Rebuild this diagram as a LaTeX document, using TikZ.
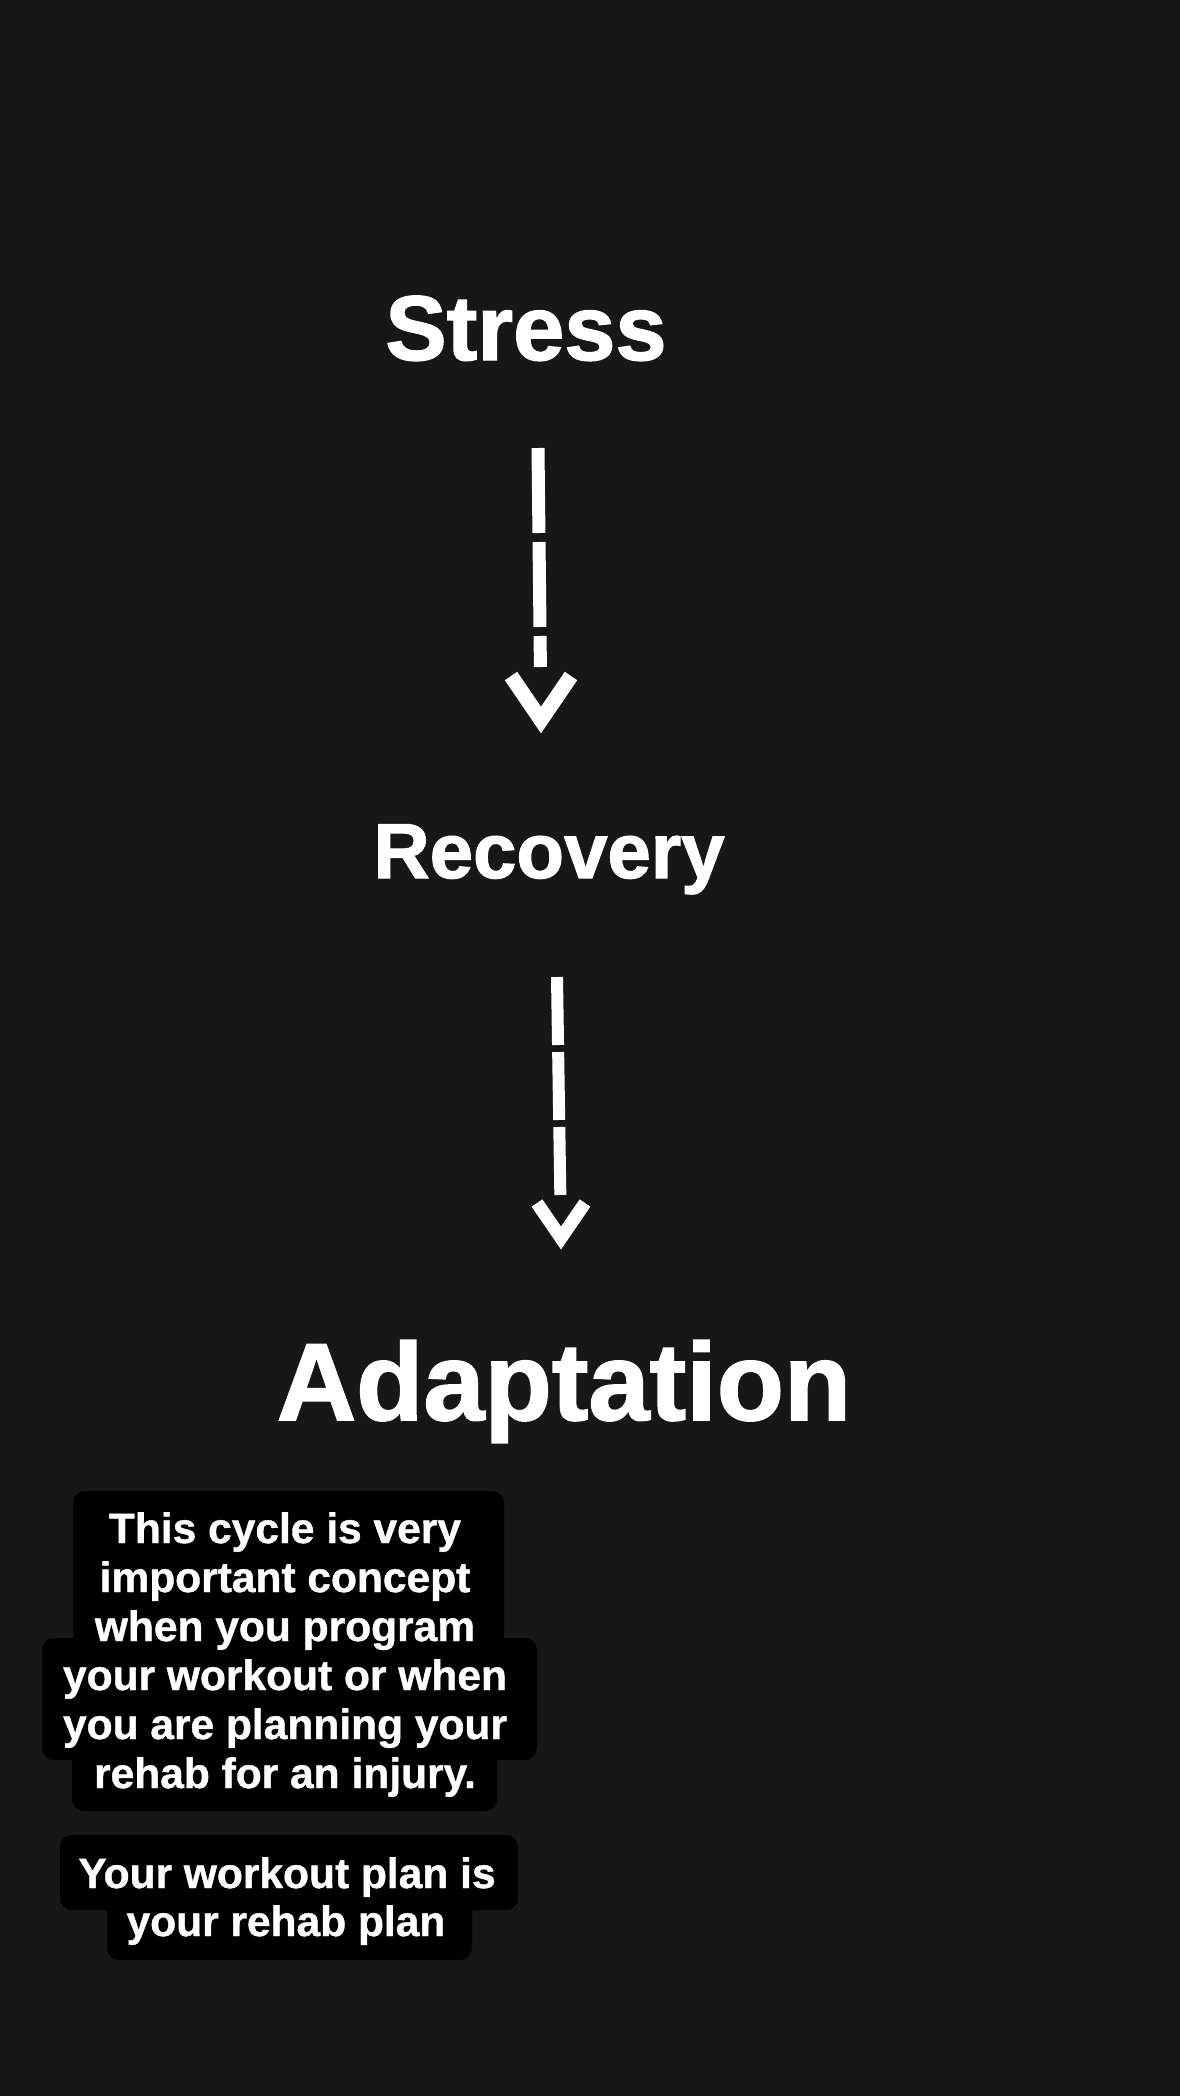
\documentclass[tikz,border=0pt]{standalone}
\usepackage{fontspec}
\setmainfont{Liberation Sans}
\newfontfamily\heavyfont{Liberation Sans Bold}[FakeBold=1.5]
\newfontfamily\notefont{Liberation Sans Bold}[FakeBold=1]
\usepackage{tikz}
\usetikzlibrary{calc}

\definecolor{bgdark}{RGB}{23,23,23}

\tikzset{
  heading/.style={text=white, anchor=base, inner sep=0pt, font=\heavyfont\fontsize{#1}{#1}\selectfont},
  note/.style={text=white, anchor=base, inner sep=0pt, font=\notefont\fontsize{42.5}{49}\selectfont},
  notebox/.style={fill=black, rounded corners=12pt},
  dashlink/.style={white, line width=#1},
  chev/.style={white, line width=#1, line join=miter},
}

\begin{document}
\begin{tikzpicture}[x=1pt, y=-1pt]
\useasboundingbox (0,0) rectangle (1179,2096);
\fill[bgdark] (-6,-6) rectangle (1185,2102);

\node[heading=92] (stress) at (526,360) {Stress};
\node[heading=78] (recovery) at (549,878) {Recovery};
\node[heading=110] (adapt) at (564,1420) {Adaptation};

% first arrow
\coordinate (a1top) at (538,448);
\coordinate (a1tip) at (541,720);
\draw[dashlink=13pt, dash pattern=on 85pt off 9pt, shorten >=53pt] (a1top) -- (a1tip);
\draw[chev=15pt] ($(a1tip)+(-30,-44)$) -- (a1tip) -- ($(a1tip)+(30,-44)$);

% second arrow
\coordinate (a2top) at (557,977);
\coordinate (a2tip) at (561,1238);
\draw[dashlink=12pt, dash pattern=on 68pt off 7pt, shorten >=43pt] (a2top) -- (a2tip);
\draw[chev=13pt] ($(a2tip)+(-24,-35)$) -- (a2tip) -- ($(a2tip)+(24,-35)$);

% text boxes
\fill[notebox] (73,1491) rectangle (504,1650);
\fill[notebox] (42,1638) rectangle (537,1760);
\fill[notebox] (72,1748) rectangle (497,1811);
\fill[notebox] (60,1835) rectangle (518,1910);
\fill[notebox] (107,1896) rectangle (472,1960);

\foreach \txt [count=\i] in {This cycle is very, important concept, when you program,
    your workout or when, you are planning your, rehab for an injury.}
  \node[note] (cycle\i) at (285,{1494+49*\i}) {\txt};
\node[note] (plan1) at (287,1888) {Your workout plan is};
\node[note] (plan2) at (286,1936) {your rehab plan};
\end{tikzpicture}
\end{document}
